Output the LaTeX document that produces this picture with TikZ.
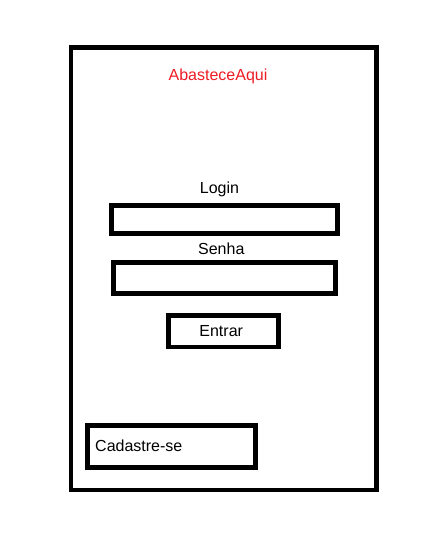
\documentclass[tikz,border=0pt]{standalone}
\usepackage{fontspec}
\setmainfont{Liberation Sans}
\definecolor{titlered}{RGB}{237,28,36}
\tikzset{
  frame/.style={line width=4.7pt},
  label/.style={anchor=base,inner sep=0pt,font=\fontsize{16}{19}\selectfont}
}
\begin{document}
\begin{tikzpicture}[x=1pt,y=-1pt]
 \useasboundingbox (0,0) rectangle (444,551);
 \draw[frame](71,47.5) rectangle (376.5,490);
 \node[label,text=titlered] (title) at (218,80.7) {AbasteceAqui};
 \node[label] (login) at (219.5,193) {Login};
 \draw[frame](111.5,205.2) rectangle (337.5,233.3);
 \node[label] (senha) at (221.3,254) {Senha};
 \draw[frame](113.5,262.5) rectangle (335.3,293.3);
 \draw[frame](168.5,315.8) rectangle (278.3,347);
 \node[label] (entrar) at (221.2,336) {Entrar};
 \draw[frame](87.5,425.8) rectangle (255.3,467.5);
 \node[label,anchor=base west] (cadastro) at (95,451) {Cadastre-se};
\end{tikzpicture}
\end{document}
